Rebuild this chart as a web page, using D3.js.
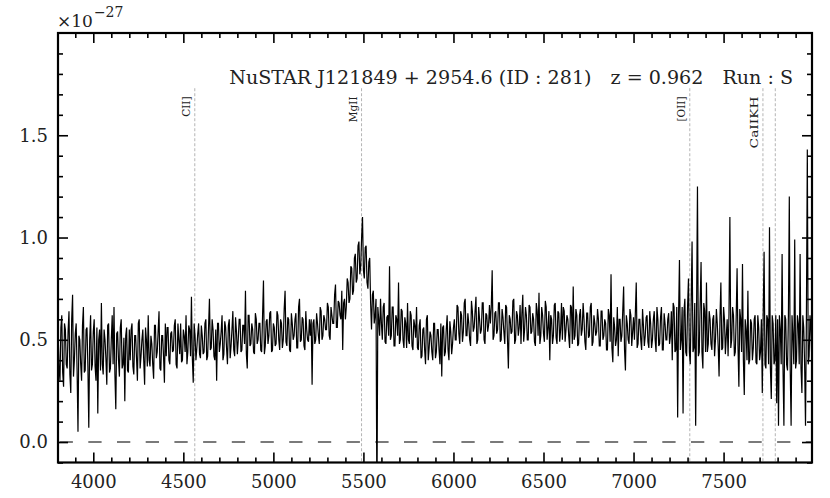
<!DOCTYPE html>
<html><head><meta charset="utf-8">
<script src="https://cdn.jsdelivr.net/npm/d3@7"></script>
<style>body{margin:0;background:#fff}svg{display:block}</style>
</head><body><svg id="c" width="830" height="498"></svg>
<script>
// ---- data (flux in units of 1e-27) ----
// samples on a 5 A grid: fluxA at 3805,3815,...  fluxB at 3810,3820,...
const waveStart = 3805, waveStep = 5;
const fluxA = [
0.52,0.30,0.62,0.27,0.55,0.36,0.64,0.24,0.72,0.40,0.58,0.05,0.50,0.30,0.66,0.35,0.56,0.07,0.62,0.38,
0.60,0.30,0.14,0.55,0.68,0.33,0.50,0.28,0.58,0.36,0.62,0.66,0.16,0.54,0.32,0.60,0.38,0.20,0.56,0.34,
0.40,0.58,0.33,0.52,0.30,0.60,0.42,0.55,0.28,0.50,0.62,0.37,0.48,0.31,0.57,0.44,0.64,0.35,0.52,0.29,
0.42,0.56,0.38,0.54,0.45,0.60,0.36,0.50,0.58,0.40,0.52,0.62,0.44,0.55,0.71,0.29,0.52,0.46,0.58,0.41,
0.52,0.44,0.60,0.42,0.70,0.46,0.55,0.40,0.30,0.58,0.48,0.62,0.43,0.56,0.38,0.60,0.47,0.64,0.42,0.54,
0.50,0.60,0.45,0.57,0.74,0.36,0.62,0.48,0.55,0.43,0.60,0.50,0.58,0.44,0.79,0.47,0.60,0.52,0.64,0.45,
0.56,0.48,0.62,0.45,0.58,0.50,0.74,0.47,0.60,0.44,0.58,0.52,0.63,0.46,0.70,0.50,0.60,0.45,0.55,0.49,
0.52,0.28,0.60,0.50,0.58,0.48,0.64,0.52,0.60,0.55,0.66,0.50,0.62,0.58,0.77,0.56,0.68,0.60,0.45,0.70,
0.66,0.78,0.70,0.85,0.74,0.92,0.80,0.98,0.86,1.10,0.80,0.96,0.75,0.90,0.55,0.74,0.62,-0.35,0.60,0.70,
0.50,0.68,0.48,0.62,0.86,0.52,0.66,0.47,0.60,0.78,0.50,0.64,0.46,0.58,0.68,0.48,0.62,0.45,0.57,0.66,
0.45,0.60,0.42,0.56,0.38,0.62,0.46,0.52,0.40,0.58,0.44,0.55,0.38,0.32,0.57,0.44,0.62,0.40,0.54,0.48,
0.60,0.50,0.66,0.48,0.62,0.54,0.70,0.52,0.58,0.47,0.64,0.56,0.71,0.50,0.60,0.55,0.68,0.48,0.62,0.57,
0.58,0.84,0.52,0.64,0.55,0.68,0.50,0.61,0.48,0.66,0.36,0.60,0.54,0.70,0.50,0.62,0.56,0.48,0.72,0.55,
0.62,0.50,0.66,0.54,0.60,0.47,0.64,0.73,0.52,0.62,0.49,0.66,0.56,0.40,0.60,0.52,0.68,0.48,0.63,0.55,
0.50,0.64,0.55,0.60,0.46,0.66,0.76,0.52,0.62,0.48,0.65,0.55,0.60,0.45,0.63,0.52,0.68,0.49,0.58,0.54,
0.60,0.47,0.64,0.52,0.58,0.45,0.62,0.82,0.39,0.56,0.50,0.42,0.60,0.52,0.76,0.35,0.58,0.48,0.62,0.54,
0.50,0.78,0.48,0.60,0.45,0.57,0.52,0.62,0.46,0.58,0.50,0.64,0.44,0.60,0.48,0.66,0.45,0.58,0.50,0.63,
0.52,0.40,0.66,0.45,0.12,0.89,0.50,0.14,0.70,0.42,0.80,0.38,0.98,0.46,0.08,1.25,0.44,0.88,0.36,0.64,
0.78,0.48,0.60,0.45,0.62,0.50,0.58,0.32,0.78,0.46,0.60,0.52,0.42,1.10,0.50,0.62,0.44,0.85,0.27,0.60,
0.87,0.23,0.55,0.74,0.40,0.58,0.46,0.62,0.38,0.56,0.44,0.24,0.93,0.36,0.60,1.05,0.21,0.58,0.40,0.19,
0.08,0.55,0.92,0.08,0.60,0.35,1.20,0.08,0.52,0.99,0.40,0.58,0.92,0.24,0.56,0.08,1.43,0.42,0.55
];
const fluxB = [
0.36,0.56,0.34,0.58,0.38,0.54,0.33,0.60,0.32,0.53,0.35,0.52,0.38,0.57,0.34,0.55,0.37,0.50,0.35,0.54,
0.37,0.56,0.50,0.35,0.38,0.55,0.41,0.57,0.34,0.50,0.38,0.33,0.53,0.40,0.56,0.36,0.51,0.52,0.35,0.55,
0.55,0.37,0.52,0.41,0.58,0.36,0.50,0.40,0.56,0.37,0.40,0.52,0.38,0.57,0.41,0.54,0.36,0.52,0.42,0.58,
0.56,0.40,0.53,0.44,0.57,0.38,0.58,0.43,0.39,0.55,0.44,0.38,0.57,0.42,0.41,0.58,0.40,0.53,0.43,0.57,
0.43,0.58,0.40,0.56,0.45,0.60,0.42,0.55,0.58,0.44,0.54,0.40,0.59,0.46,0.57,0.41,0.55,0.45,0.61,0.43,
0.60,0.44,0.57,0.48,0.43,0.62,0.47,0.58,0.44,0.63,0.48,0.58,0.45,0.62,0.43,0.59,0.48,0.63,0.44,0.58,
0.47,0.64,0.50,0.60,0.46,0.65,0.49,0.61,0.45,0.63,0.50,0.60,0.46,0.66,0.49,0.61,0.47,0.64,0.50,0.60,
0.60,0.58,0.48,0.63,0.52,0.66,0.50,0.62,0.55,0.68,0.52,0.66,0.58,0.72,0.56,0.69,0.62,0.74,0.68,0.60,
0.80,0.68,0.86,0.72,0.90,0.78,0.96,0.82,1.00,0.84,0.95,0.78,0.88,0.68,0.72,0.58,0.70,0.66,0.52,0.58,
0.66,0.49,0.61,0.52,0.50,0.66,0.47,0.62,0.52,0.48,0.65,0.50,0.61,0.46,0.50,0.64,0.47,0.60,0.51,0.46,
0.57,0.41,0.55,0.45,0.60,0.40,0.54,0.44,0.58,0.41,0.55,0.45,0.58,0.56,0.42,0.55,0.45,0.59,0.43,0.56,
0.50,0.67,0.53,0.64,0.49,0.68,0.52,0.63,0.50,0.69,0.54,0.64,0.48,0.66,0.53,0.68,0.50,0.63,0.54,0.67,
0.66,0.50,0.63,0.53,0.68,0.49,0.65,0.54,0.67,0.50,0.62,0.53,0.69,0.48,0.64,0.52,0.67,0.63,0.49,0.66,
0.50,0.67,0.53,0.63,0.49,0.68,0.52,0.48,0.66,0.53,0.69,0.50,0.64,0.62,0.48,0.67,0.51,0.64,0.49,0.68,
0.66,0.49,0.62,0.52,0.67,0.48,0.50,0.65,0.47,0.62,0.52,0.68,0.49,0.63,0.51,0.66,0.47,0.62,0.52,0.65,
0.47,0.64,0.50,0.60,0.45,0.65,0.49,0.46,0.61,0.47,0.66,0.60,0.49,0.64,0.45,0.62,0.50,0.65,0.47,0.61,
0.63,0.46,0.60,0.50,0.65,0.47,0.61,0.49,0.64,0.46,0.60,0.50,0.66,0.47,0.61,0.45,0.63,0.50,0.60,0.48,
0.64,0.68,0.44,0.66,0.62,0.45,0.66,0.64,0.44,0.66,0.44,0.68,0.44,0.68,0.64,0.42,0.68,0.44,0.68,0.44,
0.44,0.64,0.48,0.60,0.42,0.65,0.47,0.61,0.45,0.66,0.43,0.60,0.63,0.46,0.66,0.42,0.61,0.47,0.65,0.44,
0.40,0.60,0.40,0.38,0.60,0.40,0.60,0.39,0.62,0.40,0.60,0.62,0.38,0.62,0.38,0.36,0.62,0.38,0.62,0.60,
0.62,0.38,0.36,0.62,0.38,0.62,0.36,0.62,0.38,0.36,0.62,0.38,0.36,0.62,0.38,0.62,0.38,0.62,0.40
];
const xMajorTicks = [4000,4500,5000,5500,6000,6500,7000,7500];
const xTickLabels = ["4000","4500","5000","5500","6000","6500","7000","7500"];
const yMajorTicks = [0.0,0.5,1.0,1.5];
const yTickLabels = ["0.0","0.5","1.0","1.5"];
const lineNames = ["CII]","MgII","[OII]","CaIIKH",""];
const lineRest = [2326,2798,3727,3934,3969];
const redshift = 0.962;
const titleParts = ["NuSTAR J121849 + 2954.6 (ID : 281)","z = 0.962","Run : S"];
const scaleLabel = ["\u00d710","\u221227"];

// ---- layout ----
const W = 830, H = 498;
const L = 58, R = 812, T = 33, B = 462.5;
const FONT = "'DejaVu Serif', serif";
const svg = d3.select("#c");
svg.append("rect").attr("width",W).attr("height",H).attr("fill","#fff");

const x = d3.scaleLinear().domain([3804, 7991]).range([L, R]);
const y = d3.scaleLinear().domain([-0.1, 2.0]).range([B, T]);

svg.append("clipPath").attr("id","clip").append("rect")
  .attr("x",L).attr("y",T).attr("width",R-L).attr("height",B-T);
const plot = svg.append("g").attr("clip-path","url(#clip)");

// emission line markers
const lines = lineRest.map((r,i)=>({name:lineNames[i], w:r*(1+redshift)}));
plot.selectAll("line.em").data(lines).enter().append("line")
  .attr("x1",d=>x(d.w)).attr("x2",d=>x(d.w))
  .attr("y1",y(1.73)).attr("y2",y(-0.1))
  .attr("stroke","#b4b4b4").attr("stroke-width",1).attr("stroke-dasharray","3,2");

// zero line
plot.append("line").attr("x1",L).attr("x2",R).attr("y1",y(0)).attr("y2",y(0))
  .attr("stroke","#7a7a7a").attr("stroke-width",2)
  .attr("stroke-dasharray","13.3,15.4").attr("stroke-dashoffset",27.1);

// spectrum: interleave the two sample sets into one series
const pts = [];
fluxA.forEach((f,i)=>{
  pts.push([waveStart + (2*i)*waveStep, f]);
  if (i < fluxB.length) pts.push([waveStart + (2*i+1)*waveStep, fluxB[i]]);
});
plot.append("path").datum(pts)
  .attr("d", d3.line().x(d=>x(d[0])).y(d=>y(d[1])))
  .attr("fill","none").attr("stroke","#000").attr("stroke-width",1.2);

// line labels
svg.selectAll("text.em").data(lines.filter(d=>d.name)).enter().append("text")
  .attr("transform",d=>`translate(${x(d.w)-5},${y(1.69)}) rotate(-90)`)
  .attr("text-anchor","end").attr("font-family",FONT).attr("font-size",10.5)
  .attr("fill","#222")
  .each(function(d){ if(d.name==="CaIIKH") d3.select(this).attr("textLength",52).attr("lengthAdjust","spacingAndGlyphs"); })
  .text(d=>d.name);

// axes
const xMinor = d3.range(3900, 7991, 100).filter(v=>v%500!==0);
const yMinor = d3.range(-1, 20).map(v=>v/10).filter(v=>Math.abs((v*10)%5)>1e-9);

function styleAxis(g){
  g.select(".domain").remove();
  g.selectAll(".tick line").attr("stroke","#000").attr("stroke-width",1.6);
  g.selectAll("text").attr("font-family",FONT).attr("font-size",18).attr("fill","#222");
}
function addAxis(axisFn, tr, ticks, size, labels, pad){
  const a = axisFn.tickValues(ticks).tickSizeInner(size).tickSizeOuter(0);
  if (labels) a.tickFormat((d,i)=>labels[i]).tickPadding(pad); else a.tickFormat("");
  svg.append("g").attr("transform",tr).call(a).call(styleAxis);
}
addAxis(d3.axisBottom(x), `translate(0,${B})`, xMajorTicks, -10, xTickLabels, 13);
addAxis(d3.axisBottom(x), `translate(0,${B})`, xMinor, -5);
addAxis(d3.axisTop(x), `translate(0,${T})`, xMajorTicks, -10);
addAxis(d3.axisTop(x), `translate(0,${T})`, xMinor, -5);
addAxis(d3.axisLeft(y), `translate(${L},0)`, yMajorTicks, -10, yTickLabels, 10);
addAxis(d3.axisLeft(y), `translate(${L},0)`, yMinor, -5);
addAxis(d3.axisRight(y), `translate(${R},0)`, yMajorTicks, -10);
addAxis(d3.axisRight(y), `translate(${R},0)`, yMinor, -5);

// frame
svg.append("rect").attr("x",L).attr("y",T).attr("width",R-L).attr("height",B-T)
  .attr("fill","none").attr("stroke","#000").attr("stroke-width",2.2);

// title
const title = svg.append("text").attr("x",793).attr("y",84).attr("text-anchor","end")
  .attr("font-family",FONT).attr("font-size",19.1).attr("fill","#222");
titleParts.forEach((t,i)=>{
  title.append("tspan").attr("dx", i===0?0:19).text(t);
});

// scale factor
const sc = svg.append("text").attr("x",57).attr("y",27).attr("font-family",FONT).attr("fill","#222");
sc.append("tspan").attr("font-size",17).text(scaleLabel[0]);
sc.append("tspan").attr("font-size",14).attr("dy",-10).attr("dx",1).text(scaleLabel[1]);
</script>
</body></html>
